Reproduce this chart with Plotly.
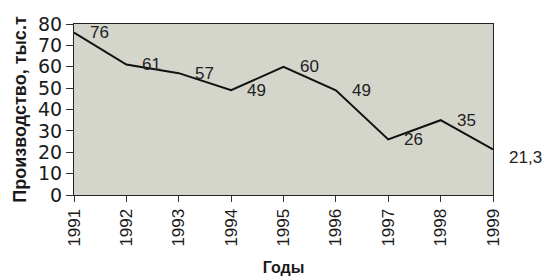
import plotly.graph_objects as go

years = [1991, 1992, 1993, 1994, 1995, 1996, 1997, 1998, 1999]
production = [76, 61, 57, 49, 60, 49, 26, 35, 21.3]
labels = [f"{v:g}".replace(".", ",") for v in production]
label_yshift = [0, 0, 0, 0, 0, 0, 0, 0, -8]
y_ticks = [0, 10, 20, 30, 40, 50, 60, 70, 80]

font_family = "Liberation Sans, Arial, sans-serif"

fig = go.Figure()
fig.add_trace(go.Scatter(
    x=years, y=production, mode="lines",
    line=dict(color="#111111", width=2),
    cliponaxis=False, showlegend=False, hoverinfo="skip",
))

for x, y, t, ys in zip(years, production, labels, label_yshift):
    fig.add_annotation(
        x=x, y=y, text=t, showarrow=False,
        xanchor="left", yanchor="middle", xshift=14, yshift=ys,
        font=dict(size=17, color="#222222", family=font_family),
    )

fig.update_layout(
    width=545, height=277,
    margin=dict(l=74, r=52, t=24, b=82),
    paper_bgcolor="white",
    plot_bgcolor="#d4d5cb",
    font=dict(family=font_family, color="#1a1a1a"),
    xaxis=dict(
        range=[1991, 1999], tickmode="array", tickvals=years,
        ticktext=[str(y) for y in years], tickangle=-90,
        ticks="outside", ticklen=6, tickcolor="#333333",
        tickfont=dict(size=17), showgrid=False, zeroline=False,
        showline=True, linecolor="#222222", linewidth=1, mirror=True,
        automargin=False,
        title=dict(text="<b>Годы</b>", font=dict(size=16), standoff=16),
    ),
    yaxis=dict(
        range=[0, 80], tickmode="array", tickvals=y_ticks,
        ticks="outside", ticklen=7, tickcolor="#333333",
        tickfont=dict(size=19, family="DejaVu Sans, sans-serif"),
        showgrid=False, zeroline=False,
        showline=True, linecolor="#222222", linewidth=1, mirror=True,
        automargin=False,
        title=dict(text="<b>Производство, тыс.т</b>", font=dict(size=18), standoff=6),
    ),
)

fig.write_html(
    "out.html",
    config={"displayModeBar": False},
    post_script="document.body.style.margin='0';document.body.style.overflow='hidden';",
)
